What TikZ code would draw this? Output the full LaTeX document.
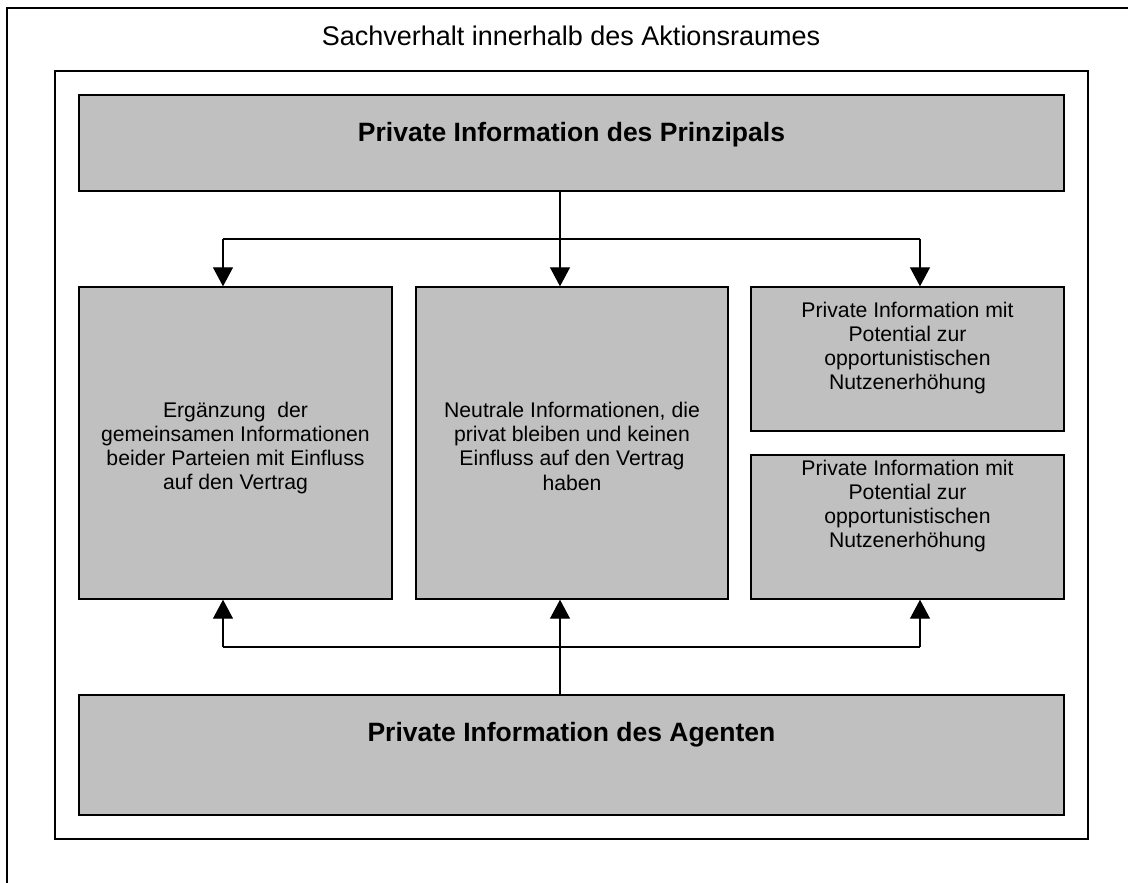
\documentclass[tikz,border=0pt]{standalone}
\usepackage{fontspec}
\setmainfont{Liberation Sans}
\usetikzlibrary{arrows.meta}
\definecolor{boxgray}{RGB}{192,192,192}
\begin{document}
\begin{tikzpicture}[x=1pt,y=-1pt,
  frame/.style={draw=black,line width=1.6pt},
  box/.style={draw=black,fill=boxgray,line width=1.4pt,inner sep=0pt},
  txt/.style={inner sep=0pt,align=center,font=\fontsize{21.2}{24.3}\selectfont},
  boldtxt/.style={inner sep=0pt,font=\fontsize{26.5}{30}\selectfont\bfseries},
  titletxt/.style={inner sep=0pt,font=\fontsize{27}{31}\selectfont},
  conn/.style={draw=black,line width=1.3pt},
  arr/.style={conn,-{Triangle[length=19pt,width=20pt]}}]
\useasboundingbox (0,0) rectangle (1128,883);
\fill[white] (0,0) rectangle (1128,883);
% outer frame (runs off the right and bottom edges)
\begin{scope}
  \clip (0,0) rectangle (1128,883);
  \draw[frame] (7,8) rectangle (1140,900);
\end{scope}
\node[titletxt,anchor=base] (title) at (571,46) {Sachverhalt innerhalb des Aktionsraumes};
% inner frame
\node[frame,inner sep=0pt,minimum width=1033pt,minimum height=768pt] (room) at (571.5,455) {};
% boxes
\node[box,minimum width=985pt,minimum height=96pt] (P) at (571.5,143) {};
\node[box,minimum width=313pt,minimum height=312pt] (L) at (235.5,443) {};
\node[box,minimum width=312pt,minimum height=312pt] (M) at (572,443) {};
\node[box,minimum width=313pt,minimum height=144pt] (RT) at (907.5,359) {};
\node[box,minimum width=313pt,minimum height=144pt] (RB) at (907.5,527) {};
\node[box,minimum width=985pt,minimum height=120pt] (A) at (571.5,755) {};
% texts
\node[boldtxt,anchor=base] (Ptxt) at (571.5,141) {Private Information des Prinzipals};
\node[boldtxt,anchor=base] (Atxt) at (571.5,741) {Private Information des Agenten};
\node[txt] (Ltxt) at (235.5,448) {Ergänzung~ der\\gemeinsamen Informationen\\beider Parteien mit Einfluss\\auf den Vertrag};
\node[txt] (Mtxt) at (572,446) {Neutrale Informationen, die\\privat bleiben und keinen\\Einfluss auf den Vertrag\\haben};
\node[txt] (RTtxt) at (907.5,348) {Private Information mit\\Potential zur\\opportunistischen\\Nutzenerhöhung};
\node[txt] (RBtxt) at (907.5,506) {Private Information mit\\Potential zur\\opportunistischen\\Nutzenerhöhung};
% connectors from the principal
\coordinate (tl) at (223,239);
\coordinate (tm) at (560,239);
\coordinate (tr) at (920,239);
\draw[conn] (P.south -| tm) -- (tm);
\draw[conn] (tl) -- (tr);
\draw[arr] (tl) -- (tl |- L.north);
\draw[arr] (tm) -- (tm |- M.north);
\draw[arr] (tr) -- (tr |- RT.north);
% connectors from the agent
\coordinate (bl) at (223,647);
\coordinate (bm) at (560,647);
\coordinate (br) at (920,647);
\draw[conn] (A.north -| bm) -- (bm);
\draw[conn] (bl) -- (br);
\draw[arr] (bl) -- (bl |- L.south);
\draw[arr] (bm) -- (bm |- M.south);
\draw[arr] (br) -- (br |- RB.south);
\end{tikzpicture}
\end{document}
